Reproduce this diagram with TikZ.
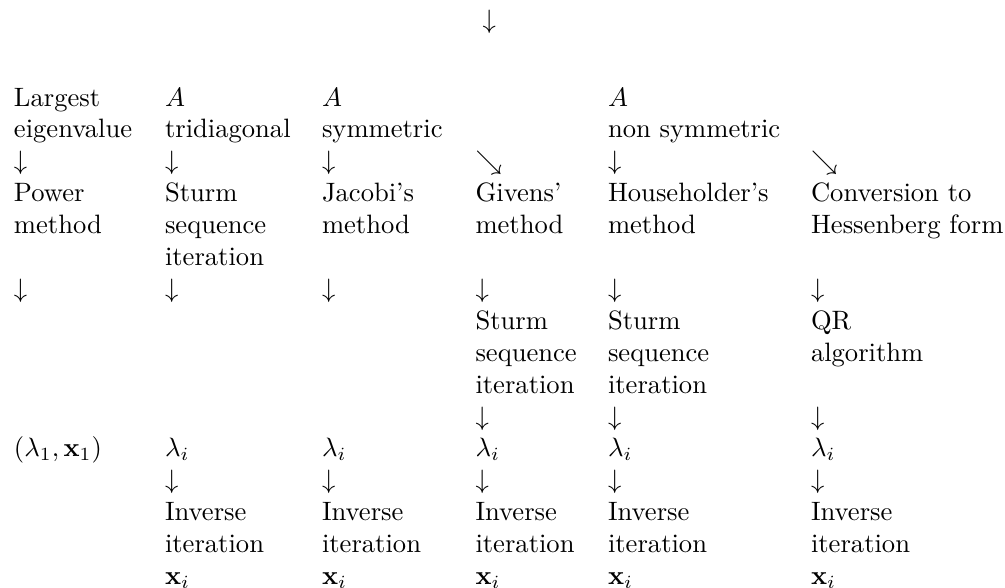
\documentclass[tikz,border=0pt]{standalone}
\begin{document}
\begin{tikzpicture}[x=0.3762pt,y=-0.3762pt,
  txt/.style={anchor=base west,inner sep=0pt,outer sep=0pt}]
\useasboundingbox (0,0) rectangle (1005,587);
% column left edges and row baselines (12pt line pitch)
\def\xA{14}\def\xB{165}\def\xC{322}\def\xD{475.5}\def\xE{608}\def\xF{811}
\def\yA{106}\def\yB{137.9}\def\yC{169.8}\def\yD{201.7}\def\yE{233.6}
\def\yF{265.5}\def\yG{297.4}\def\yH{329.3}\def\yI{361.2}\def\yJ{393.1}
\def\yK{425}\def\yL{456.9}\def\yM{488.8}\def\yN{520.7}\def\yO{552.6}\def\yP{584.5}

% incoming arrow at the top
\node[txt] (top) at (482.7,28.8) {$\downarrow$};

% matrix classes
\node[txt] (la1) at (\xA,\yA) {Largest};
\node[txt] (la2) at (\xA,\yB) {eigenvalue};
\node[txt] (tr1) at (\xB,\yA) {$A$};
\node[txt] (tr2) at (\xB,\yB) {tridiagonal};
\node[txt] (sy1) at (\xC,\yA) {$A$};
\node[txt] (sy2) at (\xC,\yB) {symmetric};
\node[txt] (ns1) at (\xE,\yA) {$A$};
\node[txt] (ns2) at (\xE,\yB) {non symmetric};

% arrows to the methods
\node[txt] (a1) at (\xA,\yC) {$\downarrow$};
\node[txt] (a2) at (\xB,\yC) {$\downarrow$};
\node[txt] (a3) at (\xC,\yC) {$\downarrow$};
\node[txt] (a4) at (\xD,\yC) {$\searrow$};
\node[txt] (a5) at (\xE,\yC) {$\downarrow$};
\node[txt] (a6) at (\xF,\yC) {$\searrow$};

% methods
\node[txt] (pm1) at (\xA,\yD) {Power};
\node[txt] (pm2) at (\xA,\yE) {method};
\node[txt] (ss1) at (\xB,\yD) {Sturm};
\node[txt] (ss2) at (\xB,\yE) {sequence};
\node[txt] (ss3) at (\xB,\yF) {iteration};
\node[txt] (jm1) at (\xC,\yD) {Jacobi's};
\node[txt] (jm2) at (\xC,\yE) {method};
\node[txt] (gm1) at (\xD,\yD) {Givens'};
\node[txt] (gm2) at (\xD,\yE) {method};
\node[txt] (hm1) at (\xE,\yD) {Householder's};
\node[txt] (hm2) at (\xE,\yE) {method};
\node[txt] (hf1) at (\xF,\yD) {Conversion to};
\node[txt] (hf2) at (\xF,\yE) {Hessenberg form};

\node[txt] (b1) at (\xA,\yG) {$\downarrow$};
\node[txt] (b2) at (\xB,\yG) {$\downarrow$};
\node[txt] (b3) at (\xC,\yG) {$\downarrow$};
\node[txt] (b4) at (\xD,\yG) {$\downarrow$};
\node[txt] (b5) at (\xE,\yG) {$\downarrow$};
\node[txt] (b6) at (\xF,\yG) {$\downarrow$};

% second stage
\node[txt] (gs1) at (\xD,\yH) {Sturm};
\node[txt] (gs2) at (\xD,\yI) {sequence};
\node[txt] (gs3) at (\xD,\yJ) {iteration};
\node[txt] (hs1) at (\xE,\yH) {Sturm};
\node[txt] (hs2) at (\xE,\yI) {sequence};
\node[txt] (hs3) at (\xE,\yJ) {iteration};
\node[txt] (qr1) at (\xF,\yH) {QR};
\node[txt] (qr2) at (\xF,\yI) {algorithm};

\node[txt] (c4) at (\xD,\yK) {$\downarrow$};
\node[txt] (c5) at (\xE,\yK) {$\downarrow$};
\node[txt] (c6) at (\xF,\yK) {$\downarrow$};

% eigenvalues and eigenvectors
\node[txt] (ev1) at (\xA,\yL) {$(\lambda_1,\mathbf{x}_1)$};
\foreach \c/\n in {\xB/2,\xC/3,\xD/4,\xE/5,\xF/6}{
  \node[txt] (ev\n) at (\c,\yL) {$\lambda_i$};
  \node[txt] (d\n)  at (\c,\yM) {$\downarrow$};
  \node[txt] (iv\n) at (\c,\yN) {Inverse};
  \node[txt] (it\n) at (\c,\yO) {iteration};
  \node[txt] (xv\n) at (\c,\yP) {$\mathbf{x}_i$};
}
\end{tikzpicture}
\end{document}
